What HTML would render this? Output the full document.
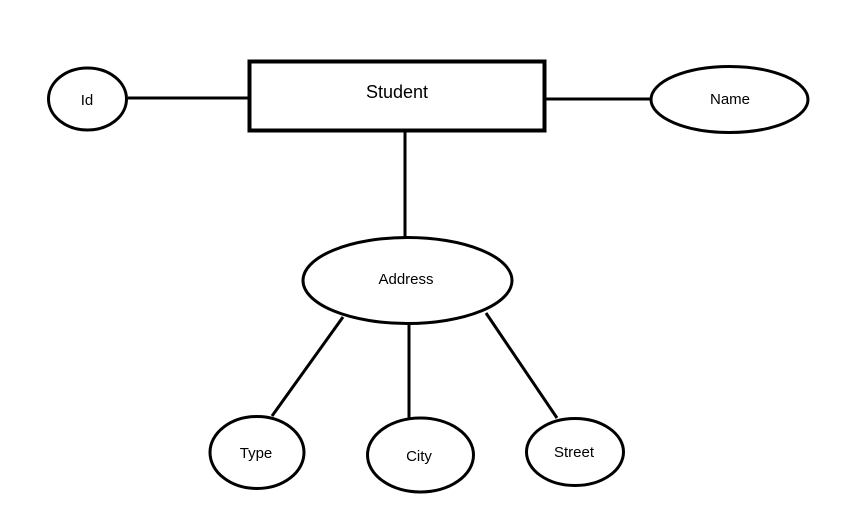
<!DOCTYPE html>
<html><head><style>html,body{margin:0;padding:0;background:#fff}svg{display:block}</style></head>
<body>
<svg width="857" height="524" viewBox="0 0 857 524" xmlns="http://www.w3.org/2000/svg">
<g stroke="#000" stroke-width="3" fill="none">
<line x1="128" y1="98" x2="248" y2="98"/>
<line x1="546" y1="99" x2="650" y2="99"/>
<line x1="405" y1="131" x2="405" y2="237"/>
<line x1="343" y1="317" x2="272" y2="416"/>
<line x1="409" y1="325" x2="409" y2="418"/>
<line x1="486" y1="313" x2="557" y2="418"/>
</g>
<g stroke="#000" stroke-width="3" fill="#fff">
<rect x="249.5" y="61.5" width="295" height="69" stroke-width="4"/>
<ellipse cx="87.5" cy="99" rx="39" ry="31"/>
<ellipse cx="729.5" cy="99.5" rx="78.5" ry="33"/>
<ellipse cx="407.5" cy="280.5" rx="104.5" ry="43"/>
<ellipse cx="257" cy="452.5" rx="47" ry="36"/>
<ellipse cx="420.5" cy="455" rx="53" ry="37"/>
<ellipse cx="575" cy="452" rx="48.5" ry="33.5"/>
</g>
<g font-family="Liberation Sans, sans-serif" fill="#000" text-anchor="middle">
<text x="397" y="98" font-size="18">Student</text>
<text x="87" y="105" font-size="15">Id</text>
<text x="730" y="104" font-size="15">Name</text>
<text x="406" y="284" font-size="15">Address</text>
<text x="256" y="458" font-size="15">Type</text>
<text x="419" y="461" font-size="15">City</text>
<text x="574" y="457" font-size="15">Street</text>
</g>
</svg>
</body></html>
